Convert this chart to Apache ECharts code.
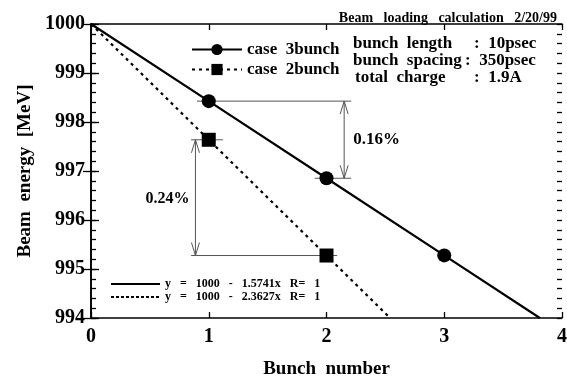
<!DOCTYPE html>
<html><head><meta charset="utf-8">
<script src="https://cdn.jsdelivr.net/npm/echarts@6/dist/echarts.min.js"></script>
<style>html,body{margin:0;padding:0;background:#fff}#c{width:567px;height:380px}</style>
</head><body><div id="c"></div>
<script>
// ---- data ----
var xTicks = [0, 1, 2, 3, 4];
var yTicks = [994, 995, 996, 997, 998, 999, 1000];
var bunch3X = [1, 2, 3];
var bunch3Y = [998.426, 996.852, 995.278];
var bunch2X = [1, 2];
var bunch2Y = [997.637, 995.275];
var fit3 = [[0, 1000], [3.812, 994]];
var fit2 = [[0, 1000], [2.54, 994]];
var name3 = 'case  3bunch';
var name2 = 'case  2bunch';
var fitLabel3 = 'y   =   1000   -   1.5741x   R=   1';
var fitLabel2 = 'y   =   1000   -   2.3627x   R=   1';
// reference lines [x1, x2, y]
var refLines = [[0.9, 2.21, 998.426], [1.9, 2.21, 996.852], [0.85, 1.12, 997.637], [0.85, 2.09, 995.275]];
// arrows [x, yTop, yBottom, label]
var arrows = [[2.15, 998.426, 996.852, '0.16%'], [0.887, 997.637, 995.275, '0.24%']];
var infoLabels = ['bunch  length', 'bunch  spacing', 'total  charge'];
var infoValues = [':  10psec', ':  350psec', ':  1.9A'];
var titleText = 'Beam   loading   calculation   2/20/99';

var FF = '"Liberation Serif","Times New Roman",serif';

function mkSeriesData(fit, xs, ys) {
  var d = [{value: fit[0], symbol: 'none'}];
  for (var i = 0; i < xs.length; i++) d.push({value: [xs[i], ys[i]]});
  d.push({value: fit[1], symbol: 'none'});
  return d;
}

var chart = echarts.init(document.getElementById('c'), null, {renderer: 'canvas'});
var blackLine = {show: true, lineStyle: {color: '#000', width: 1.6}};
function yAx(pos, interval, tickLen, withLine) {
  return {
    type: 'value', min: yTicks[0], max: yTicks[yTicks.length - 1], interval: interval, position: pos,
    axisLine: withLine ? blackLine : {show: false},
    splitLine: {show: false},
    axisTick: {inside: true, length: tickLen, lineStyle: {color: '#000', width: 1.3}},
    axisLabel: {show: false}
  };
}
var yMainL = yAx('left', 1, 8, true);
yMainL.axisLabel = {show: true, fontFamily: FF, fontWeight: 'bold', fontSize: 20, color: '#000', margin: 6,
  formatter: function (v) { return String(v); }};
yMainL.name = 'Beam  energy  [MeV]';
yMainL.nameLocation = 'middle';
yMainL.nameGap = 56;
yMainL.nameTextStyle = {fontFamily: FF, fontWeight: 'bold', fontSize: 19, color: '#000'};
var yMainR = yAx('right', 1, 8, true);
var yMinL = yAx('left', 0.2, 5, false);
var yMinR = yAx('right', 0.2, 5, false);

var option = {
  animation: false,
  backgroundColor: '#fff',
  grid: {left: 91, right: 5, top: 24, bottom: 62, containLabel: false, outerBoundsMode: 'none'},
  title: {
    text: titleText, right: 5, top: 6,
    textStyle: {fontFamily: FF, fontWeight: 'bold', fontSize: 14, color: '#000'}
  },
  legend: {
    data: [name3, name2], orient: 'vertical', left: 186, top: 36,
    itemWidth: 50, itemHeight: 14, itemGap: 3,
    textStyle: {fontFamily: FF, fontWeight: 'bold', fontSize: 17, color: '#000'}
  },
  xAxis: [
    {
      type: 'value', min: xTicks[0], max: xTicks[xTicks.length - 1], interval: 1, position: 'bottom',
      axisLine: blackLine, splitLine: {show: false},
      axisTick: {inside: true, length: 6, lineStyle: {color: '#000', width: 1.3}},
      axisLabel: {fontFamily: FF, fontWeight: 'bold', fontSize: 20, color: '#000', margin: 9},
      name: 'Bunch  number', nameLocation: 'middle', nameGap: 42,
      nameTextStyle: {fontFamily: FF, fontWeight: 'bold', fontSize: 19, color: '#000'}
    },
    {
      type: 'value', min: xTicks[0], max: xTicks[xTicks.length - 1], interval: 1, position: 'top',
      axisLine: blackLine, splitLine: {show: false},
      axisTick: {inside: true, length: 6, lineStyle: {color: '#000', width: 1.3}},
      axisLabel: {show: false}
    }
  ],
  yAxis: [yMainL, yMainR, yMinL, yMinR],
  series: [
    {
      name: name3, type: 'line', data: mkSeriesData(fit3, bunch3X, bunch3Y),
      symbol: 'circle', symbolSize: 14, showAllSymbol: true,
      lineStyle: {color: '#000', width: 2.2, type: 'solid'},
      itemStyle: {color: '#000'}, z: 5
    },
    {
      name: name2, type: 'line', data: mkSeriesData(fit2, bunch2X, bunch2Y),
      symbol: 'rect', symbolSize: 14, showAllSymbol: true,
      lineStyle: {color: '#000', width: 2.2, type: [3, 4]},
      itemStyle: {color: '#000'}, z: 5
    },
    {
      type: 'custom', coordinateSystem: 'cartesian2d', silent: true, z: 3,
      data: refLines,
      renderItem: function (params, api) {
        var p1 = api.coord([api.value(0), api.value(2)]);
        var p2 = api.coord([api.value(1), api.value(2)]);
        return {type: 'line', shape: {x1: p1[0], y1: p1[1], x2: p2[0], y2: p2[1]},
          style: {stroke: '#555', lineWidth: 1}};
      }
    },
    {
      type: 'custom', coordinateSystem: 'cartesian2d', silent: true, z: 3,
      data: arrows.map(function (a) { return [a[0], a[1], a[2]]; }),
      renderItem: function (params, api) {
        var t = api.coord([api.value(0), api.value(1)]);
        var b = api.coord([api.value(0), api.value(2)]);
        var hl = 13, hw = 4;
        return {type: 'group', children: [
          {type: 'line', shape: {x1: t[0], y1: t[1], x2: b[0], y2: b[1]}, style: {stroke: '#555', lineWidth: 1}},
          {type: 'polyline', shape: {points: [[t[0] - hw, t[1] + hl], [t[0], t[1]], [t[0] + hw, t[1] + hl]]}, style: {stroke: '#555', lineWidth: 1, fill: null}},
          {type: 'polyline', shape: {points: [[b[0] - hw, b[1] - hl], [b[0], b[1]], [b[0] + hw, b[1] - hl]]}, style: {stroke: '#555', lineWidth: 1, fill: null}}
        ]};
      }
    }
  ],
  graphic: []
};
chart.setOption(option);

// annotations positioned by the chart's scales
var g = [];
var c016 = chart.convertToPixel({xAxisIndex: 0, yAxisIndex: 0}, [arrows[0][0], (arrows[0][1] + arrows[0][2]) / 2]);
var c024 = chart.convertToPixel({xAxisIndex: 0, yAxisIndex: 0}, [arrows[1][0], (arrows[1][1] + arrows[1][2]) / 2]);
g.push({type: 'text', x: c016[0] + 9, y: c016[1], style: {text: arrows[0][3], font: 'bold 17px ' + FF, fill: '#000', verticalAlign: 'middle', align: 'left'}});
g.push({type: 'text', x: c024[0] - 6, y: c024[1] + 1, style: {text: arrows[1][3], font: 'bold 16px ' + FF, fill: '#000', verticalAlign: 'middle', align: 'right'}});
var infoX = 353, valX = [474, 465, 474], infoY = [44, 61, 78];
for (var i = 0; i < infoLabels.length; i++) {
  g.push({type: 'text', x: infoX + (i === 2 ? 2 : 0), y: infoY[i], style: {text: infoLabels[i], font: 'bold 17px ' + FF, fill: '#000', verticalAlign: 'middle'}});
  g.push({type: 'text', x: valX[i], y: infoY[i], style: {text: infoValues[i], font: 'bold 17px ' + FF, fill: '#000', verticalAlign: 'middle'}});
}
// fit-equation key
g.push({type: 'line', shape: {x1: 111, y1: 284, x2: 160, y2: 284}, style: {stroke: '#000', lineWidth: 1.8}});
g.push({type: 'line', shape: {x1: 111, y1: 297, x2: 160, y2: 297}, style: {stroke: '#000', lineWidth: 1.8, lineDash: [3, 2]}});
g.push({type: 'text', x: 165, y: 284, style: {text: fitLabel3, font: 'bold 12px ' + FF, fill: '#000', verticalAlign: 'middle'}});
g.push({type: 'text', x: 165, y: 297, style: {text: fitLabel2, font: 'bold 12px ' + FF, fill: '#000', verticalAlign: 'middle'}});
chart.setOption({graphic: g});
</script></body></html>
